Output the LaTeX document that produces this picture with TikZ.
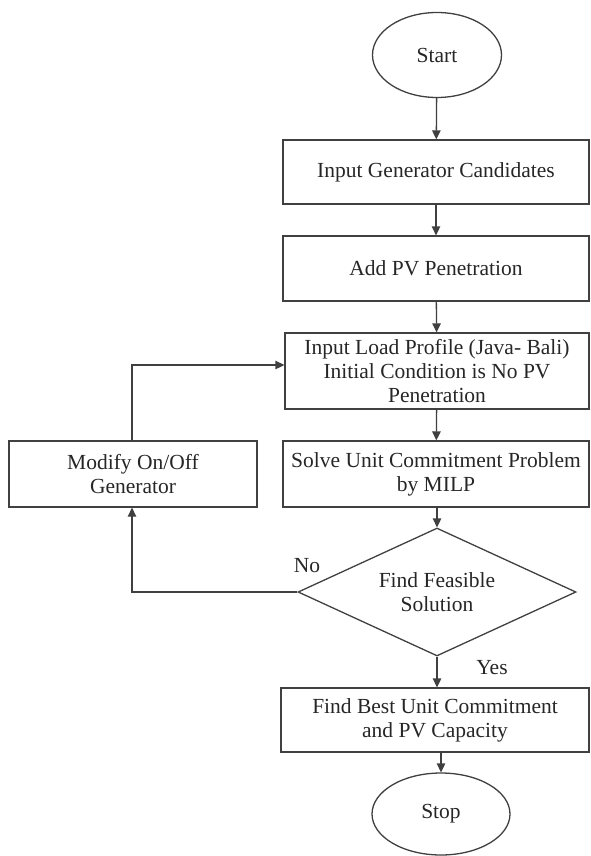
\documentclass[tikz,border=0pt]{standalone}
\usepackage{fontspec}
\setmainfont{Liberation Serif}
\usetikzlibrary{shapes.geometric,arrows.meta}
\begin{document}
\begin{tikzpicture}[x=1pt,y=-1pt,
  base/.style={draw=black!75, line width=1.3pt, font=\fontsize{21.5}{24}\selectfont, text=black!85, align=center, inner sep=0pt},
  box/.style={base, rectangle},
  term/.style={base, ellipse},
  decide/.style={base, diamond, shape aspect=2.17},
  lbl/.style={font=\fontsize{21.5}{24}\selectfont, text=black!85, inner sep=0pt},
  flow/.style={draw=black!75, line width=1.3pt, -{Triangle[length=9pt,width=8.5pt]}},
  seg/.style={draw=black!75, line width=1.3pt}
]
\useasboundingbox (0,0) rectangle (590,856);
\node[term, minimum width=129pt, minimum height=85pt] (start) at (437,55) {Start};
\node[box, minimum width=306pt, minimum height=64pt] (b1) at (436,172) {Input Generator Candidates};
\node[box, minimum width=306pt, minimum height=65pt] (b2) at (436,268.5) {Add PV Penetration};
\node[box, minimum width=304pt, minimum height=76pt] (b3) at (437,371) {Input Load Profile (Java- Bali)\\Initial Condition is No PV\\Penetration};
\node[box, minimum width=306pt, minimum height=66pt] (b4) at (436,474) {Solve Unit Commitment Problem\\by MILP};
\node[box, minimum width=248pt, minimum height=66pt] (mod) at (133,474) {Modify On/Off\\Generator};
\node[decide, minimum width=278pt, minimum height=128pt] (dia) at (437,592) {Find Feasible\\Solution};
\node[box, minimum width=308pt, minimum height=64pt] (b5) at (435,720) {Find Best Unit Commitment\\and PV Capacity};
\node[term, minimum width=138pt, minimum height=82pt] (stop) at (441,814) {Stop};
\node[lbl] (no) at (307,566) {No};
\node[lbl] (yes) at (492,668) {Yes};
\coordinate (c1) at (132,592);
\coordinate (c2) at (132,365);
\draw[flow] (start) -- (b1);
\draw[flow] (b1) -- (b2);
\draw[flow] (b2) -- (b3);
\draw[flow] (b3) -- (b4);
\draw[flow] (b4.south -| dia.north) -- (dia.north);
\draw[flow] (dia.south) -- (b5.north -| dia.south);
\draw[flow] (b5.south -| stop.north) -- (stop.north);
\draw[flow] (dia.west) -- (c1) -- (c1 |- mod.south);
\draw[flow] (c1 |- mod.north) -- (c2) -- (c2 -| b3.west);
\end{tikzpicture}
\end{document}
